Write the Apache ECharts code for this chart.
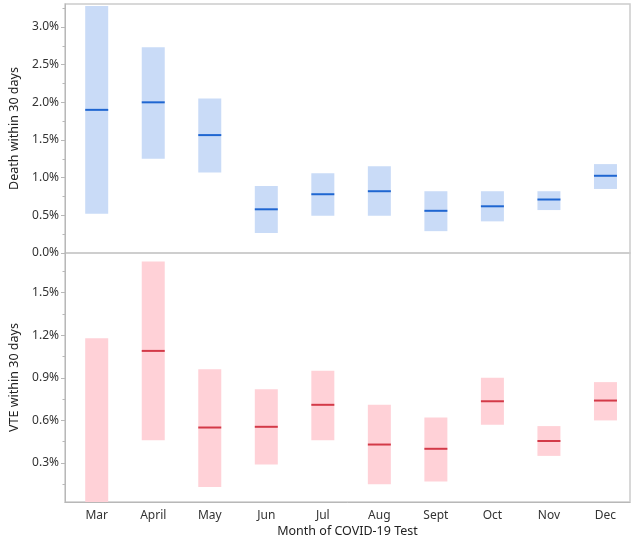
<!DOCTYPE html>
<html>
<head>
<meta charset="utf-8">
<script src="https://cdn.jsdelivr.net/npm/echarts@6/dist/echarts.min.js"></script>
<style>html,body{margin:0;padding:0;background:#fff}#c{width:634px;height:539px}</style>
</head>
<body>
<div id="c"></div>
<script>
var months = ['Mar','April','May','Jun','Jul','Aug','Sept','Oct','Nov','Dec'];
var deathLower = [0.52,1.25,1.07,0.265,0.495,0.495,0.29,0.42,0.57,0.85];
var deathUpper = [3.28,2.73,2.05,0.89,1.06,1.15,0.82,0.82,0.82,1.18];
var deathMean  = [1.90,2.00,1.565,0.58,0.78,0.82,0.56,0.62,0.71,1.025];
var vteLower = [0,0.46,0.13,0.29,0.46,0.15,0.17,0.57,0.35,0.60];
var vteUpper = [1.18,1.72,0.96,0.82,0.95,0.71,0.62,0.90,0.56,0.87];
var vteMean  = [0,1.09,0.55,0.555,0.71,0.43,0.40,0.735,0.455,0.74];
var deathTicks = [0,0.5,1.0,1.5,2.0,2.5,3.0];
var deathMinor = [0.25,0.75,1.25,1.75,2.25,2.75,3.25];
var vteTicks = [0.3,0.6,0.9,1.2,1.5];
var vteMinor = [0.15,0.45,0.75,1.05,1.35,1.65];

var FONT = 'Noto Sans';
var idx = months.map(function(_, i){ return i; });

function build(lower, upper, mean){
  return months.map(function(m, i){ return [i, lower[i], upper[i], mean[i]]; });
}
function renderer(fill, lineColor){
  return function(params, api){
    var x = api.value(0);
    var lo = api.coord([x, api.value(1)]);
    var hi = api.coord([x, api.value(2)]);
    var mn = api.coord([x, api.value(3)]);
    var w = 23;
    var cs = params.coordSys;
    var rect = echarts.graphic.clipRectByRect(
      {x: lo[0]-w/2, y: hi[1], width: w, height: lo[1]-hi[1]},
      {x: cs.x, y: cs.y, width: cs.width, height: cs.height});
    var children = [];
    if (rect) children.push({type:'rect', shape: rect, style:{fill: fill}});
    if (mn[1] <= cs.y + cs.height && mn[1] >= cs.y) {
      children.push({type:'line', shape:{x1: mn[0]-w/2, y1: mn[1], x2: mn[0]+w/2, y2: mn[1]},
        style:{stroke: lineColor, lineWidth: 2}});
    }
    return {type:'group', children: children};
  };
}
var xMin = -0.561, xMax = 9.434;
function yAxis(grid, min, max, ticks, name, show){
  return {
    type:'value', gridIndex: grid, min: min, max: max, position:'left',
    name: show ? name : '', nameLocation:'middle', nameGap: 44,
    nameTextStyle:{fontFamily: FONT, fontSize: 12.5, color:'#222'},
    axisLine:{show: show, onZero:false, lineStyle:{color:'#b8b8b8', width:1}},
    axisTick:{show:true, length: show?4:2.5, customValues: ticks, lineStyle:{color:'#b8b8b8'}},
    axisLabel:{show: show, customValues: ticks, margin: 6, fontFamily: FONT, fontSize: 12, color:'#333',
      formatter: function(v){ return v.toFixed(1) + '%'; }},
    splitLine:{show:false}
  };
}
var chart = echarts.init(document.getElementById('c'));
chart.setOption({
  animation:false,
  grid:[
    {left:60, right:4, top:4, height:249, show:true, borderColor:'#cccccc', borderWidth:1.5},
    {left:60, right:4, top:253, height:251, show:true, borderColor:'#cccccc', borderWidth:1.5}
  ],
  xAxis:[
    {type:'value', gridIndex:0, min:xMin, max:xMax, axisLine:{show:false, onZero:false}, axisTick:{show:false}, axisLabel:{show:false}, splitLine:{show:false}},
    {type:'value', gridIndex:1, min:xMin, max:xMax, position:'bottom',
      name:'Month of COVID-19 Test', nameLocation:'middle', nameGap:23,
      nameTextStyle:{fontFamily: FONT, fontSize:12.5, color:'#222'},
      axisLine:{show:true, onZero:false, lineStyle:{color:'#b8b8b8'}}, axisTick:{show:false},
      axisLabel:{customValues: idx, margin:8, fontFamily: FONT, fontSize:12, color:'#333',
        formatter:function(v){ return months[Math.round(v)]; }},
      splitLine:{show:false}}
  ],
  yAxis:[
    yAxis(0, 0, 3.305, deathTicks, 'Death within 30 days', true),
    yAxis(1, 0.025, 1.78, vteTicks, 'VTE within 30 days', true),
    yAxis(0, 0, 3.305, deathMinor, '', false),
    yAxis(1, 0.025, 1.78, vteMinor, '', false)
  ],
  series:[
    {type:'custom', xAxisIndex:0, yAxisIndex:0, renderItem: renderer('#c9dbf7', '#1f66d1'),
      data: build(deathLower, deathUpper, deathMean), encode:{x:0, y:[1,2,3]}},
    {type:'custom', xAxisIndex:1, yAxisIndex:1, renderItem: renderer('#ffd1d7', '#d33a48'),
      data: build(vteLower, vteUpper, vteMean), encode:{x:0, y:[1,2,3]}}
  ]
});
</script>
</body>
</html>
